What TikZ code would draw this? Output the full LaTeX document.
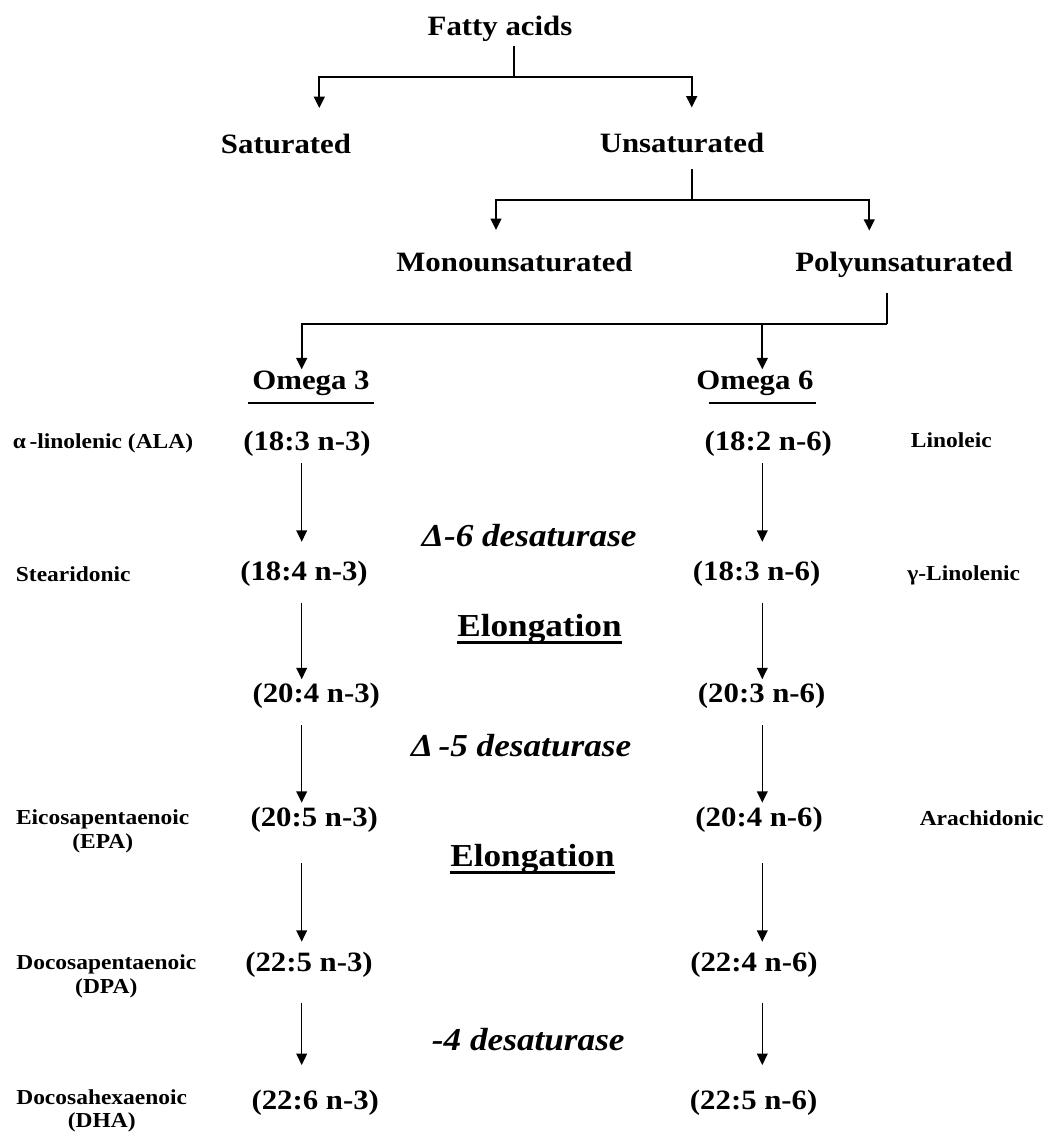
\documentclass[tikz,border=0pt]{standalone}
\usepackage{fontspec}
\setmainfont{Liberation Serif}[FakeStretch=1.1]
\usetikzlibrary{arrows.meta,positioning,calc}

\begin{document}
\begin{tikzpicture}[x=0.75pt,y=-0.75pt,
	head/.style={font=\fontsize{21}{25}\selectfont\bfseries, inner sep=0pt, anchor=base},
	acid/.style={font=\fontsize{16}{17.5}\selectfont\bfseries, inner sep=0pt, anchor=base, align=center},
	enzyme/.style={font=\fontsize{24}{28}\selectfont\bfseries\itshape, inner sep=0pt, anchor=base},
	upright/.style={font=\fontsize{24}{28}\selectfont\bfseries},
	branch/.style={line width=1.5pt},
	barr/.style={branch, -{Triangle[width=8pt,length=8.5pt]}},
	arr/.style={line width=1.1pt, -{Triangle[width=8pt,length=8.5pt]}},
	uline/.style={line width=1.5pt}]
	\useasboundingbox (0,0) rectangle (1045,1133);

	% classification
	\node[head] (fa) at (500,35) {Fatty acids};
	\node[head] (sat) at (286,153) {Saturated};
	\node[head] (unsat) at (682,152.5) {Unsaturated};
	\node[head] (mono) at (514.5,271) {Monounsaturated};
	\node[head] (poly) at (904,271.5) {Polyunsaturated};
	\node[head] (o3) at (311,389.3) {Omega 3};
	\node[head] (o6) at (755,389.3) {Omega 6};

	% omega 3 column
	\node[head] (n3a) at (307,450) {(18:3 n-3)};
	\node[head] (n3b) at (304,580) {(18:4 n-3)};
	\node[head] (n3c) at (316.3,702.7) {(20:4 n-3)};
	\node[head] (n3d) at (314.3,826) {(20:5 n-3)};
	\node[head] (n3e) at (309,971.7) {(22:5 n-3)};
	\node[head] (n3f) at (315.3,1109.3) {(22:6 n-3)};

	% omega 6 column
	\node[head] (n6a) at (768.3,450) {(18:2 n-6)};
	\node[head] (n6b) at (756.7,580) {(18:3 n-6)};
	\node[head] (n6c) at (761.7,702.7) {(20:3 n-6)};
	\node[head] (n6d) at (759.2,826) {(20:4 n-6)};
	\node[head] (n6e) at (754,971.7) {(22:4 n-6)};
	\node[head] (n6f) at (753.7,1109.3) {(22:5 n-6)};

	% common names (two-line ones sit on their last line)
	\node[acid] (ala) at (103,448.3) {α\,-linolenic (ALA)};
	\node[acid] (ste) at (73.3,581) {Stearidonic};
	\node[acid] (epa) at (102.7,848.3) {Eicosapentaenoic\\(EPA)};
	\node[acid] (dpa) at (106.3,993.3) {Docosapentaenoic\\(DPA)};
	\node[acid] (dha) at (101.7,1127.5) {Docosahexaenoic\\(DHA)};
	\node[acid] (lin) at (951.3,447.7) {Linoleic};
	\node[acid] (gla) at (963.7,580) {γ-Linolenic};
	\node[acid] (ara) at (981.7,825) {Arachidonic};

	% enzymes
	\node[enzyme] (d6) at (529.3,546.7) {Δ-6 desaturase};
	\node[enzyme, upright] (el1) at (539.5,636.7) {Elongation};
	\node[enzyme] (d5) at (521.2,756.7) {Δ\,-5 desaturase};
	\node[enzyme, upright] (el2) at (532.5,866.7) {Elongation};
	\node[enzyme] (d4) at (528.3,1050) {-4 desaturase};

	% Underlines
	\draw[uline] ($(o3.base west)+(-4,13.4)$) -- ($(o3.base east)+(4,13.4)$);
	\draw[uline] ($(o6.base west)+(12.7,13.4)$) -- ($(o6.base east)+(1.7,13.4)$);
	\draw[line width=2pt] ($(el1.base west)+(0,6)$) -- ($(el1.base east)+(0,6)$);
	\draw[line width=2pt] ($(el2.base west)+(0,6)$) -- ($(el2.base east)+(0,6)$);

	% Branches
	\coordinate (j1) at (514,77);
	\coordinate (j2) at (691.7,199.5);
	\coordinate (j3) at (886.7,324);
	\coordinate (sx) at (319.3,0);
	\coordinate (mx) at (496,0);
	\coordinate (px) at (869.3,0);
	\coordinate (ax3) at (301.7,0);
	\coordinate (ax6) at (762.3,0);
	\draw[branch] (fa.base -| j1) ++(0,11) -- (j1);
	\draw[barr, shorten >=33.75pt] (j1) -| (sat.base -| sx);
	\draw[barr, shorten >=33.75pt] (j1) -| (unsat.base -| j2);
	\draw[branch] (unsat.base -| j2) ++(0,16.5) -- (j2);
	\draw[barr, shorten >=30.75pt] (j2) -| (mono.base -| mx);
	\draw[barr, shorten >=30.6pt] (j2) -| (poly.base -| px);
	\draw[branch] (poly.base -| j3) ++(0,21.2) -- (j3);
	\draw[barr, shorten >=15pt] (j3) -| (o3.base -| ax3);
	\draw[barr, shorten >=15pt] (j3 -| ax6) -- (o6.base -| ax6);

	% Arrows
	\foreach \a/\b/\s/\e in {a/b/13.3/28.7pt, b/c/22.7/17.6pt, c/d/22.3/17.5pt, d/e/37.3/22.5pt, e/f/31/33.2pt}{
		\draw[arr, shorten >=\e] (n3\a.base -| ax3) ++(0,\s) -- (n3\b.base -| ax3);
		\draw[arr, shorten >=\e] (n6\a.base -| ax6) ++(0,\s) -- (n6\b.base -| ax6);
	}
\end{tikzpicture}
\end{document}
